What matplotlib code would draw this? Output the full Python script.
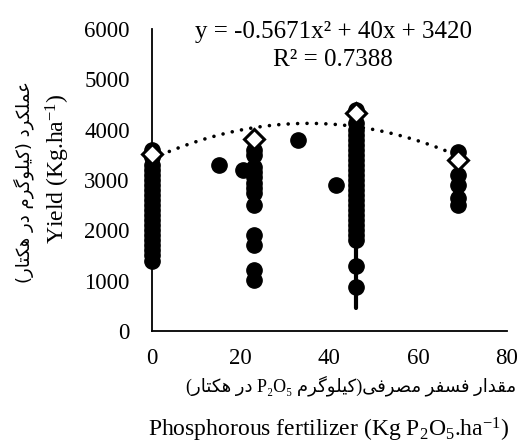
import numpy as np
import matplotlib
matplotlib.use("Agg")
import matplotlib.pyplot as plt

# Данные
x_cols = [0, 23, 46, 69]
y_col_0 = [3600, 3450, 3300, 3200, 3100, 3000, 2900, 2800, 2700, 2600, 2500,
           2400, 2300, 2200, 2100, 2000, 1900, 1800, 1700, 1600, 1500, 1400]
y_col_23 = [3600, 3500, 3250, 3150, 3050, 2950, 2850, 2750, 2500, 1900, 1700, 1220, 1020]
y_col_46 = [4400, 4130, 4000, 3900, 3800, 3700, 3600, 3500, 3400, 3300, 3200, 3100,
            3000, 2900, 2800, 2700, 2600, 2500, 2400, 2300, 2200, 2100, 2000,
            1900, 1800, 1300, 880]
y_col_69 = [3550, 3100, 2900, 2650, 2500]
x_single = [15, 20.5, 33, 41.5]
y_single = [3300, 3200, 3800, 2900]
whisker_x = 46
whisker_y = [450, 1750]
x_mean = [0, 23, 46, 69]
y_mean = [3520, 3810, 4330, 3400]
trend_coef = [-0.5671, 40, 3420]

x_ticks = [0, 20, 40, 60, 80]
y_ticks = [0, 1000, 2000, 3000, 4000, 5000, 6000]

# Простая "сборка" персидских букв в формы (matplotlib сам не умеет)
FORMS = {
    'ا': (0xFE8D, 0xFE8E, None, None), 'د': (0xFEA9, 0xFEAA, None, None),
    'ر': (0xFEAD, 0xFEAE, None, None), 'و': (0xFEED, 0xFEEE, None, None),
    'ع': (0xFEC9, 0xFECA, 0xFECB, 0xFECC), 'م': (0xFEE1, 0xFEE2, 0xFEE3, 0xFEE4),
    'ل': (0xFEDD, 0xFEDE, 0xFEDF, 0xFEE0), 'ک': (0xFB8E, 0xFB8F, 0xFB90, 0xFB91),
    'گ': (0xFB92, 0xFB93, 0xFB94, 0xFB95), 'ی': (0xFBFC, 0xFBFD, 0xFBFE, 0xFBFF),
    'ه': (0xFEE9, 0xFEEA, 0xFEEB, 0xFEEC), 'ت': (0xFE95, 0xFE96, 0xFE97, 0xFE98),
    'ق': (0xFED5, 0xFED6, 0xFED7, 0xFED8), 'ف': (0xFED1, 0xFED2, 0xFED3, 0xFED4),
    'س': (0xFEB1, 0xFEB2, 0xFEB3, 0xFEB4), 'ص': (0xFEB9, 0xFEBA, 0xFEBB, 0xFEBC),
}

def shape(word):
    out = []
    for i, ch in enumerate(word):
        if ch not in FORMS:
            out.append(ch)
            continue
        prev = word[i - 1] if i > 0 else ''
        nxt = word[i + 1] if i + 1 < len(word) else ''
        jp = prev in FORMS and FORMS[prev][2] is not None
        jn = FORMS[ch][2] is not None and nxt in FORMS
        if jp and jn:
            code = FORMS[ch][3]
        elif jn:
            code = FORMS[ch][2]
        elif jp:
            code = FORMS[ch][1]
        else:
            code = FORMS[ch][0]
        out.append(chr(code))
    return ''.join(reversed(out))

# строки в визуальном порядке (справа налево)
fa_ylabel = '(' + shape('هکتار') + ' ' + shape('در') + ' ' + shape('کیلوگرم') + ') ' + shape('عملکرد')
fa_xlabel = ('(' + shape('هکتار') + ' ' + shape('در') + ' P₂O₅ ' + shape('کیلوگرم') + ')'
             + shape('مصرفی') + ' ' + shape('فسفر') + ' ' + shape('مقدار'))

plt.rcParams['font.family'] = ['Liberation Serif', 'DejaVu Sans']
plt.rcParams['mathtext.fontset'] = 'custom'
plt.rcParams['mathtext.rm'] = 'Liberation Serif'
plt.rcParams['mathtext.it'] = 'Liberation Serif:italic'

fig = plt.figure(figsize=(5.32, 4.45), dpi=100)
ax = fig.add_axes([0.2857, 0.2562, 0.667, 0.6786])

# Тренд
xt = np.linspace(0, 69, 200)
yt = np.polyval(trend_coef, xt)
ax.plot(xt, yt, color='black', linewidth=2.6, linestyle=(0, (0.01, 2.6)),
        dash_capstyle='round', zorder=2, clip_on=False)

ax.plot([whisker_x, whisker_x], whisker_y, color='black', linewidth=3,
        solid_capstyle='round', zorder=3)

for xc, ys in zip(x_cols, [y_col_0, y_col_23, y_col_46, y_col_69]):
    ax.plot([xc] * len(ys), ys, 'o', color='black', markersize=11, zorder=3, clip_on=False)
ax.plot(x_single, y_single, 'o', color='black', markersize=11, zorder=3)
ax.plot(x_mean, y_mean, 'D', markerfacecolor='white', markeredgecolor='black',
        markersize=10, markeredgewidth=2.2, zorder=4, clip_on=False)

ax.set_xlim(0, 80)
ax.set_ylim(0, 6000)
ax.set_xticks(x_ticks)
ax.set_yticks(y_ticks)
ax.tick_params(length=0, labelsize=16.5)
ax.tick_params(axis='y', pad=16)
ax.tick_params(axis='x', pad=12)
for s in ['top', 'right']:
    ax.spines[s].set_visible(False)
for s in ['left', 'bottom']:
    ax.spines[s].set_linewidth(1.3)
    ax.spines[s].set_zorder(1)

fig.text(0.626, 0.928, 'y = -0.5671x² + 40x + 3420', ha='center', va='center', fontsize=18)
fig.text(0.626, 0.865, 'R² = 0.7388', ha='center', va='center', fontsize=18)

fig.text(0.108, 0.62, 'Yield (Kg.ha$^{-1}$)', rotation=90, ha='center', va='center', fontsize=17)
fig.text(0.045, 0.59, fa_ylabel, rotation=90, ha='center', va='center', fontsize=13,
         family=['DejaVu Sans'])
fig.text(0.66, 0.133, fa_xlabel, ha='center', va='center', fontsize=13,
         family=['Liberation Serif', 'DejaVu Sans'])
fig.text(0.618, 0.034, 'Phosphorous fertilizer (Kg P$_2$O$_5$.ha$^{-1}$)', ha='center',
         va='center', fontsize=17)

plt.savefig('out.png', dpi=100)
